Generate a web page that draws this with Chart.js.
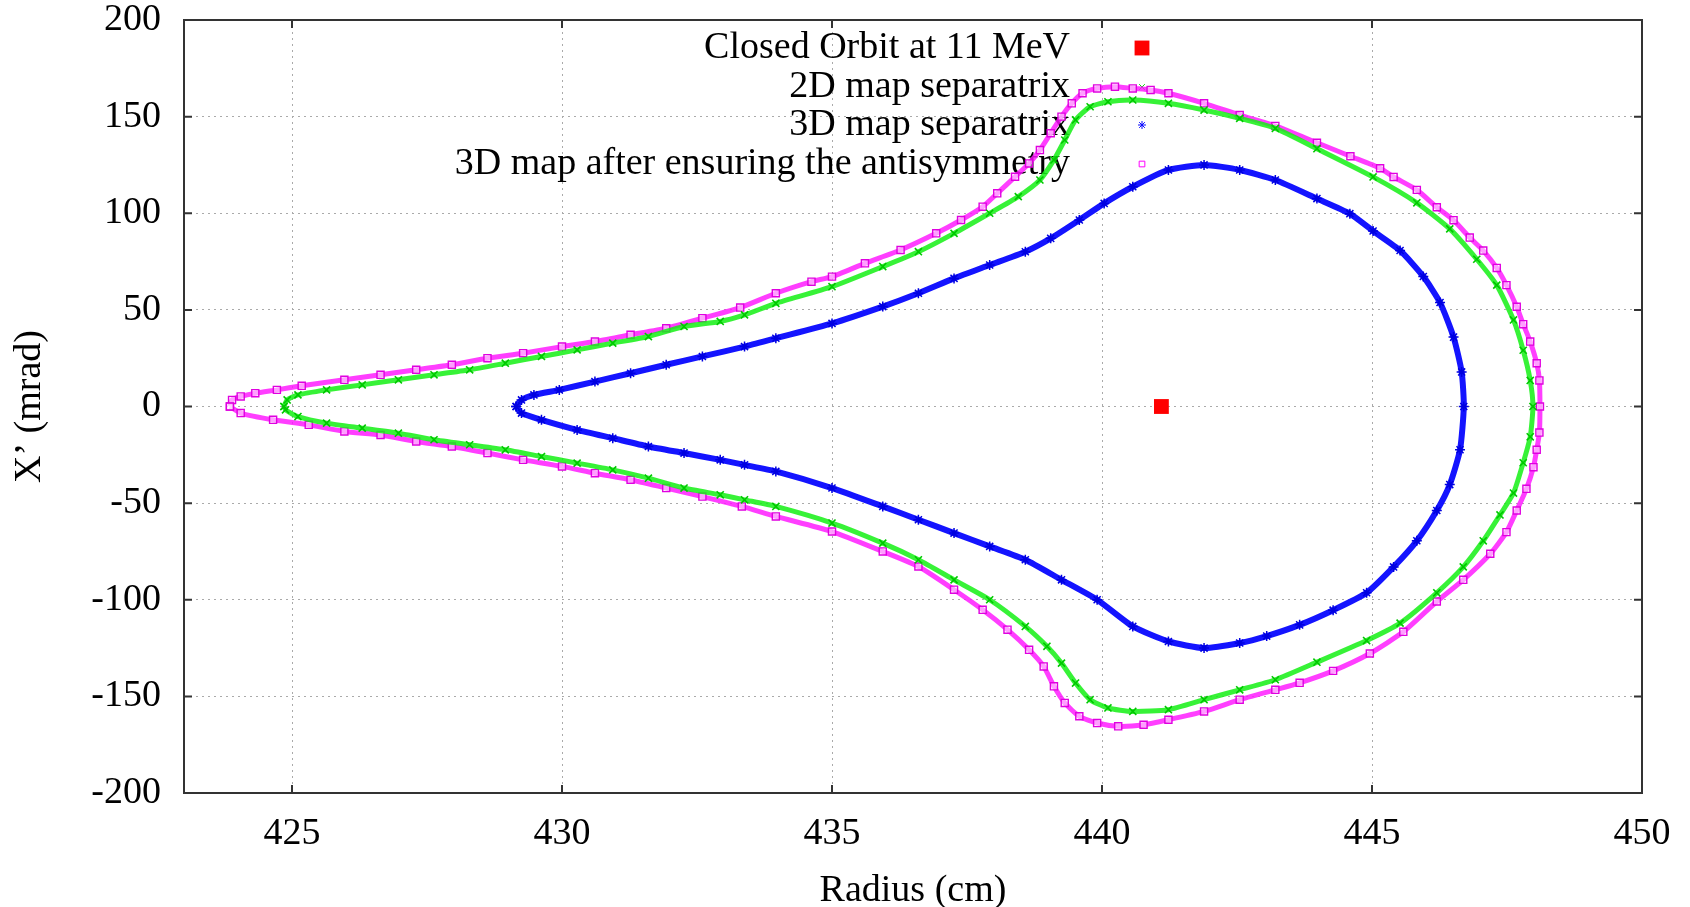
<!DOCTYPE html>
<html>
<head>
<meta charset="utf-8">
<title>Separatrix</title>
<script src="https://cdn.jsdelivr.net/npm/chart.js@4/dist/chart.umd.min.js"></script>
<style>
    html, body { margin: 0; padding: 0; background: #fff; }
</style>
</head>
<body>
<canvas id="sepChart" width="1690" height="907"></canvas>
<script>
// Closed orbit at 11 MeV
const orbitR = [441.1];
const orbitV = [0];

// 2D map separatrix (radius cm, X' mrad)
const sep2dR = [424.85, 424.91, 425.11, 425.64, 426.30, 426.97, 427.63, 428.29, 428.95, 429.62, 430.28, 430.94, 431.60, 432.26, 432.93, 433.38, 433.96, 435.00, 435.94, 436.60, 437.26, 437.92, 438.45, 438.85, 439.11, 439.31, 439.51, 439.78, 440.11, 440.57, 441.23, 441.89, 442.55, 443.21, 443.98, 445.02, 445.83, 446.44, 446.94, 447.31, 447.62, 447.80, 447.93, 447.98,
    447.93, 447.80, 447.62, 447.37, 447.06, 446.69, 446.20, 445.52, 444.90, 443.98, 443.21, 442.55, 441.89, 441.23, 440.57, 440.11, 439.78, 439.51, 439.25, 438.98, 438.58, 437.92, 437.26, 436.60, 435.94, 435.00, 433.96, 433.38, 432.93, 432.26, 431.60, 430.94, 430.28, 429.62, 428.95, 428.29, 427.63, 426.97, 426.30, 425.64, 425.11, 424.88, 424.85];
const sep2dV = [0, 3.4, 6.0, 8.6, 11.2, 13.8, 16.4, 19.0, 22.4, 25.9, 29.3, 32.8, 36.2, 41.4, 44.0, 47.4, 53.4, 62.0, 72.4, 80.1, 89.6, 100.0, 108.6, 117.2, 127.6, 137.9, 148.3, 155.1, 157.7, 158.6, 156.9, 153.4, 149.1, 143.9, 133.4, 118.8, 105.4, 91.9, 76.2, 62.8, 44.8, 29.1, 13.5, 0,
    -15.7, -29.1, -44.8, -56.1, -69.5, -83.0, -96.4, -112.1, -121.1, -132.3, -141.4, -146.6, -151.7, -156.9, -157.8, -156.0, -151.7, -143.1, -132.8, -124.1, -113.8, -100.0, -89.7, -79.3, -70.7, -60.3, -51.7, -48.3, -45.7, -42.2, -37.1, -32.8, -29.3, -25.9, -22.4, -19.8, -17.2, -13.8, -11.2, -8.6, -5.2, -1.7, 0];

// 3D map separatrix
const sep3dR = [429.15, 429.25, 429.48, 429.95, 430.61, 431.27, 431.93, 432.60, 433.38, 433.96, 435.00, 435.94, 436.60, 437.26, 437.92, 438.58, 439.05, 439.58, 440.04, 440.57, 441.23, 441.89, 442.55, 443.21, 443.98, 444.59, 445.02, 445.52, 445.95, 446.26, 446.51, 446.66, 446.70,
    446.63, 446.44, 446.20, 445.83, 445.40, 444.90, 444.28, 443.66, 443.05, 442.55, 441.89, 441.23, 440.57, 439.91, 439.25, 438.58, 437.92, 437.26, 436.60, 435.94, 435.00, 433.96, 433.38, 432.93, 432.26, 431.60, 430.94, 430.28, 429.62, 429.25, 429.15];
const sep3dV = [0, 3.4, 6.0, 8.6, 12.9, 17.2, 21.6, 25.9, 31.0, 35.3, 43.0, 51.7, 58.6, 66.3, 73.2, 80.1, 87.0, 96.5, 105.1, 113.7, 122.4, 125.0, 122.4, 117.2, 107.6, 99.8, 90.8, 80.7, 67.3, 53.8, 35.9, 17.9, 0,
    -22.4, -40.4, -53.8, -69.5, -83.0, -96.4, -105.4, -113.0, -118.8, -122.4, -125.0, -121.6, -113.8, -100.0, -89.7, -79.3, -72.4, -65.5, -58.6, -51.7, -42.2, -33.6, -30.2, -27.6, -24.1, -20.7, -16.4, -12.1, -6.9, -3.4, 0];

// 3D map after ensuring the antisymmetry
const symR = [423.85, 423.89, 424.05, 424.32, 424.72, 425.18, 425.97, 426.64, 427.30, 427.96, 428.62, 429.28, 430.00, 430.61, 431.27, 431.93, 432.60, 433.30, 433.96, 434.62, 435.00, 435.61, 436.27, 436.93, 437.39, 437.79, 438.06, 438.39, 438.65, 438.85, 439.05, 439.25, 439.44, 439.64, 439.91, 440.24, 440.57, 440.90, 441.23, 441.89, 442.55, 443.21, 443.98, 444.60, 445.15, 445.40, 445.83, 446.20, 446.51, 446.81, 447.06, 447.31, 447.49, 447.68, 447.80, 447.93, 448.05, 448.10, 448.11,
    448.10, 448.05, 447.99, 447.86, 447.68, 447.49, 447.19, 446.69, 446.20, 445.58, 444.96, 444.28, 443.66, 443.21, 442.55, 441.89, 441.23, 440.77, 440.30, 439.91, 439.58, 439.31, 439.11, 438.92, 438.65, 438.25, 437.79, 437.26, 436.60, 435.94, 435.00, 433.96, 433.33, 432.60, 431.93, 431.27, 430.61, 430.00, 429.28, 428.62, 427.96, 427.30, 426.64, 425.97, 425.31, 424.65, 424.05, 423.85];
const symV = [0, 3.4, 5.2, 6.9, 8.6, 10.7, 13.8, 16.4, 19.0, 21.6, 25.0, 27.6, 31.0, 33.6, 37.1, 40.5, 45.7, 51.2, 58.6, 64.6, 67.2, 74.1, 81.0, 89.6, 96.5, 103.4, 110.3, 118.9, 125.8, 132.7, 141.4, 150.0, 156.9, 162.1, 164.6, 165.5, 164.6, 163.8, 162.1, 156.9, 150.8, 145.2, 136.5, 129.5, 123.3, 118.8, 112.1, 103.1, 96.4, 87.4, 80.7, 71.7, 62.8, 51.6, 42.6, 33.6, 22.4, 13.5, 0,
    -13.5, -22.4, -31.4, -42.6, -53.8, -65.0, -76.2, -89.7, -100.9, -116.6, -127.8, -136.8, -143.0, -146.6, -151.7, -157.8, -162.1, -164.7, -165.5, -163.8, -160.3, -153.4, -144.8, -134.5, -125.9, -115.5, -105.2, -94.8, -82.8, -75.0, -64.7, -56.9, -51.7, -46.6, -42.2, -37.9, -34.5, -31.0, -27.6, -24.1, -20.7, -18.1, -14.7, -12.9, -9.5, -6.9, -3.4, 0];

// Tick labels
const xTicks = [425, 430, 435, 440, 445, 450];
const yTicks = [-200, -150, -100, -50, 0, 50, 100, 150, 200];

const legendLabels = ["Closed Orbit at 11 MeV", "2D map separatrix", "3D map separatrix", "3D map after ensuring the antisymmetry"];

const serif = '"Liberation Serif", "DejaVu Serif", serif';

function toPoints(xs, ys) {
    return xs.map((x, i) => ({ x: x, y: ys[i] }));
}

// keep the plot box exactly where gnuplot had it
function noScalePadding(s) {
    s.paddingTop = 0;
    s.paddingBottom = 0;
    s.paddingLeft = 0;
    s.paddingRight = 0;
}

// gnuplot-like frame, inward ticks and key
const gnuplotFrame = {
    id: "gnuplotFrame",
    beforeDatasetsDraw(chart) {
        const ctx = chart.ctx;
        const textRight = 1070, markX = 1142;
        const rows = [48, 87, 125, 164];
        ctx.save();
        ctx.font = "38px " + serif;
        ctx.fillStyle = "#000";
        ctx.textAlign = "right";
        ctx.textBaseline = "middle";
        legendLabels.forEach((t, i) => ctx.fillText(t, textRight, rows[i]));
        // key markers
        const keyStyle = [
            { pointStyle: "rect", radius: 10.5, borderWidth: 0 },
            { pointStyle: "crossRot", radius: 4, borderWidth: 1 },
            { pointStyle: "star", radius: 4, borderWidth: 1 },
            { pointStyle: "rect", radius: 4, borderWidth: 1 },
        ];
        const keyColor = ["#ff0000", "#00e000", "#0a0aff", "#ff00ff"];
        keyStyle.forEach((k, i) => {
            ctx.strokeStyle = keyColor[i];
            ctx.fillStyle = i === 0 ? keyColor[0] : "rgba(0,0,0,0)";
            ctx.lineWidth = k.borderWidth;
            Chart.helpers.drawPoint(ctx, { pointStyle: k.pointStyle, radius: k.radius, rotation: 0, borderWidth: k.borderWidth }, markX, rows[i]);
        });
        ctx.restore();
    },
    afterDraw(chart) {
        const ctx = chart.ctx;
        const a = chart.chartArea;
        const xs = chart.scales.x, ys = chart.scales.y;
        ctx.save();
        ctx.strokeStyle = "#333";
        ctx.lineWidth = 2;
        ctx.strokeRect(a.left, a.top, a.right - a.left, a.bottom - a.top);
        ctx.beginPath();
        xTicks.forEach(v => {
            const px = xs.getPixelForValue(v);
            ctx.moveTo(px, a.bottom); ctx.lineTo(px, a.bottom - 8);
            ctx.moveTo(px, a.top); ctx.lineTo(px, a.top + 8);
        });
        yTicks.forEach(v => {
            const py = ys.getPixelForValue(v);
            ctx.moveTo(a.left, py); ctx.lineTo(a.left + 8, py);
            ctx.moveTo(a.right, py); ctx.lineTo(a.right - 8, py);
        });
        ctx.stroke();
        ctx.restore();
    },
};

const data = {
    datasets: [
        {
            label: legendLabels[0],
            data: toPoints(orbitR, orbitV),
            borderColor: "#ff0000",
            backgroundColor: "#ff0000",
            pointStyle: "rect",
            pointRadius: 10.5,
            pointBorderWidth: 0,
            showLine: false,
        },
        {
            label: legendLabels[1],
            data: toPoints(sep2dR, sep2dV),
            borderColor: "rgba(20,240,20,0.85)",
            pointBorderColor: "#00c800",
            backgroundColor: "rgba(0,0,0,0)",
            pointStyle: "crossRot",
            pointRadius: 5,
            pointBorderWidth: 1.6,
            borderWidth: 5,
            showLine: true,
            tension: 0.2,
        },
        {
            label: legendLabels[2],
            data: toPoints(sep3dR, sep3dV),
            borderColor: "#1414ff",
            pointBorderColor: "#0000e0",
            backgroundColor: "rgba(0,0,0,0)",
            pointStyle: "star",
            pointRadius: 5,
            pointBorderWidth: 1.5,
            borderWidth: 6,
            showLine: true,
            tension: 0.2,
        },
        {
            label: legendLabels[3],
            data: toPoints(symR, symV),
            borderColor: "rgba(255,20,255,0.82)",
            pointBorderColor: "#e000e0",
            pointBackgroundColor: "rgba(255,255,255,0.5)",
            backgroundColor: "rgba(0,0,0,0)",
            pointStyle: "rect",
            pointRadius: 5,
            pointBorderWidth: 1.4,
            borderWidth: 5,
            showLine: true,
            tension: 0.2,
        },
    ],
};

const config = {
    type: "scatter",
    data: data,
    plugins: [gnuplotFrame],
    options: {
        responsive: false,
        animation: false,
        layout: { padding: { top: 20, right: 48, left: 0, bottom: 0 } },
        plugins: {
            legend: { display: false },
            tooltip: { enabled: false },
        },
        scales: {
            x: {
                type: "linear",
                min: 423,
                max: 450,
                afterBuildTicks: (s) => { s.ticks = xTicks.map(v => ({ value: v })); },
                afterFit: (s) => { s.height = 114; noScalePadding(s); },
                grid: { color: "#aaa", lineWidth: 1, drawTicks: false },
                border: { display: false, dash: [2, 4] },
                ticks: { color: "#000", padding: 18, maxRotation: 0, font: { family: serif, size: 38 } },
                title: {
                    display: true,
                    text: "Radius (cm)",
                    color: "#000",
                    padding: { top: 0, bottom: 0 },
                    font: { family: serif, size: 38, lineHeight: 0.84 },
                },
            },
            y: {
                type: "linear",
                min: -200,
                max: 200,
                afterBuildTicks: (s) => { s.ticks = yTicks.map(v => ({ value: v })); },
                afterFit: (s) => { s.width = 184; noScalePadding(s); },
                grid: { color: "#aaa", lineWidth: 1, drawTicks: false },
                border: { display: false, dash: [2, 4] },
                ticks: { color: "#000", padding: 23, font: { family: serif, size: 38 } },
                title: {
                    display: true,
                    text: "X’ (mrad)",
                    color: "#000",
                    padding: { top: 11, bottom: 0 },
                    font: { family: serif, size: 38, lineHeight: 1 },
                },
            },
        },
    },
};

const sepChart = new Chart(document.getElementById("sepChart"), config);
</script>
</body>
</html>
